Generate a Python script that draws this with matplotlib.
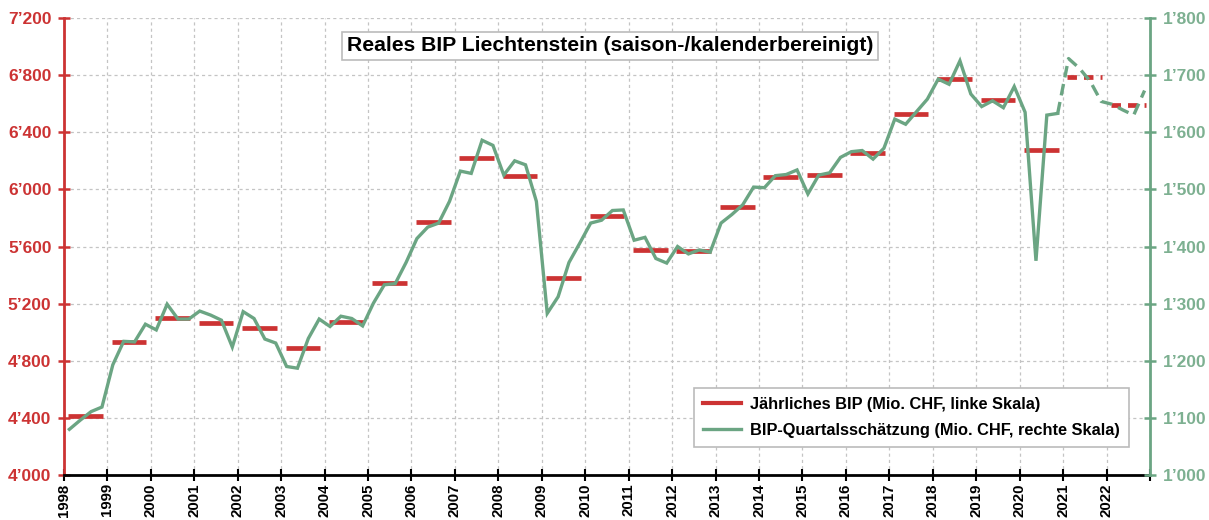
import matplotlib.pyplot as plt
import matplotlib.ticker as mticker
from matplotlib.lines import Line2D
import numpy as np

plt.rcParams['font.family'] = ['Liberation Sans', 'DejaVu Sans']
plt.rcParams['font.weight'] = 'bold'

# Data
years = np.arange(1998, 2023)
annual_gdp = [4410, 4930, 5100, 5062, 5027, 4887, 5073, 5342, 5770, 6223,
              6095, 5378, 5813, 5577, 5566, 5877, 6088, 6100, 6256, 6528,
              6771, 6625, 6275, 6784, 6591]
annual_estimated = [False] * 23 + [True, True]

quarterly_gdp = [
    1080, 1096, 1111, 1119,   # 1998
    1193, 1234, 1233, 1264,   # 1999
    1254, 1299, 1273, 1273,   # 2000
    1287, 1280, 1271, 1224,   # 2001
    1286, 1274, 1238, 1231,   # 2002
    1190, 1187, 1239, 1273,   # 2003
    1260, 1278, 1274, 1261,   # 2004
    1301, 1333, 1335, 1372,   # 2005
    1414, 1434, 1441, 1479,   # 2006
    1532, 1528, 1586, 1577,   # 2007
    1525, 1550, 1543, 1479,   # 2008
    1283, 1312, 1372, 1406,   # 2009
    1441, 1446, 1463, 1464,   # 2010
    1411, 1416, 1379, 1371,   # 2011
    1400, 1387, 1394, 1390,   # 2012
    1441, 1456, 1473, 1504,   # 2013
    1503, 1524, 1526, 1534,   # 2014
    1492, 1525, 1529, 1556,   # 2015
    1566, 1568, 1553, 1572,   # 2016
    1623, 1614, 1636, 1658,   # 2017
    1693, 1684, 1725, 1667,   # 2018
    1645, 1655, 1643, 1680,   # 2019
    1635, 1375, 1630, 1633,   # 2020
    1729, 1712, 1689, 1654,   # 2021 (Schätzung)
    1649, 1639, 1630, 1673,   # 2022 (Schätzung)
]
last_actual_quarter = 2020 * 4 + 3  # 2020 Q4

RED = '#CC3333'
GREEN = '#6BA583'
GREEN_TXT = '#7DB091'

# quarter positions: middle of each quarter
q_idx = np.arange(len(quarterly_gdp))
q_x = years[0] + (q_idx + 0.5) / 4
split = last_actual_quarter - years[0] * 4

fig = plt.figure(figsize=(12.09, 5.2), dpi=100)
ax = fig.add_axes([0.0529, 0.0865, 0.8983, 0.8789])
ax2 = ax.twinx()

# annual bars (left scale)
for y, v, est in zip(years, annual_gdp, annual_estimated):
    ax.hlines(v, y + 0.1, y + 0.9, color=RED, lw=3.4,
              linestyles=(0, (2.0, 1.5)) if est else 'solid', zorder=3)

# quarterly estimate (right scale)
ax2.plot(q_x[:split + 1], quarterly_gdp[:split + 1], color=GREEN, lw=2.4,
         solid_joinstyle='miter')
ax2.plot(q_x[split:], quarterly_gdp[split:], color=GREEN, lw=2.4,
         linestyle=(0, (3.5, 2)))

fmt = mticker.FuncFormatter(lambda v, p: f"{v:,.0f}".replace(",", "\u2019"))

ax.set_xlim(1998, 2023)
ax.set_ylim(4000, 7200)
ax.set_yticks(np.arange(4000, 7201, 400))
ax.yaxis.set_major_formatter(fmt)
ax.set_xticks(np.arange(1998, 2024))
ax.set_xticklabels([str(y) for y in years] + [''], rotation=90)
ax2.set_ylim(1000, 1800)
ax2.set_yticks(np.arange(1000, 1801, 100))
ax2.yaxis.set_major_formatter(fmt)

ax.grid(True, color='#C4C4C4', linestyle=(0, (2.5, 2.5)), lw=0.9)
ax.set_axisbelow(True)

for a in (ax, ax2):
    a.spines['top'].set_visible(False)
ax.spines['left'].set_color(RED)
ax.spines['left'].set_linewidth(2)
ax.spines['right'].set_visible(False)
ax2.spines['left'].set_visible(False)
ax2.spines['bottom'].set_visible(False)
ax2.spines['right'].set_color(GREEN)
ax2.spines['right'].set_linewidth(2)
ax.spines['bottom'].set_color('black')
ax.spines['bottom'].set_linewidth(2)

ax.tick_params(axis='y', colors=RED, labelsize=12.5, direction='inout',
               length=8, width=1.8, pad=5)
ax.tick_params(axis='x', colors='black', labelsize=10.8, direction='inout',
               length=8, width=1.5, pad=2)
ax2.tick_params(axis='y', colors=GREEN, labelcolor=GREEN_TXT, labelsize=12.5,
                direction='inout', length=8, width=1.8, pad=5)
for lab in ax.get_yticklabels() + ax2.get_yticklabels() + ax.get_xticklabels():
    lab.set_fontweight('bold')

ax2.text(0.503, 0.939, 'Reales BIP Liechtenstein (saison-/kalenderbereinigt)',
         transform=ax.transAxes, ha='center', va='center', fontsize=15.2,
         fontweight='bold',
         bbox=dict(facecolor='white', edgecolor='#BBBBBB', lw=1.2,
                   boxstyle='square,pad=0.22'))

handles = [Line2D([], [], color=RED, lw=3),
           Line2D([], [], color=GREEN, lw=2.4)]
labels = ['Jährliches BIP (Mio. CHF, linke Skala)',
          'BIP-Quartalsschätzung (Mio. CHF, rechte Skala)']
leg = ax2.legend(handles, labels, loc='lower right',
                 bbox_to_anchor=(0.981, 0.061), borderaxespad=0,
                 fancybox=False, edgecolor='#BBBBBB', framealpha=1,
                 prop={'weight': 'bold', 'size': 11.8}, handlelength=2.3,
                 handletextpad=0.6, labelspacing=0.7, borderpad=0.55)
leg.get_frame().set_linewidth(1.2)

fig.savefig('out.png', dpi=100)
